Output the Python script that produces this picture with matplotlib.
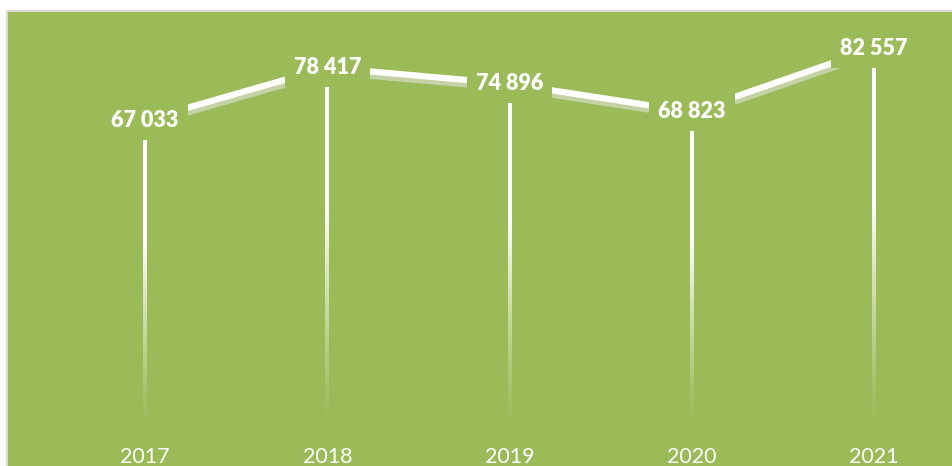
import numpy as np
import matplotlib
matplotlib.use("Agg")
import matplotlib.pyplot as plt
import matplotlib.patheffects as pe
from matplotlib.collections import LineCollection
from matplotlib.patches import Rectangle

years = ["2017", "2018", "2019", "2020", "2021"]
values = [67033, 78417, 74896, 68823, 82557]
labels = ["67 033", "78 417", "74 896", "68 823", "82 557"]

GREEN = "#9BBB59"
W, H = 953, 466
fig = plt.figure(figsize=(W / 100, H / 100), dpi=100)
fig.patch.set_facecolor("white")

# green panel with light grey border on left/top
fig.patches.append(Rectangle((6 / W, 0), (W - 6) / W, (H - 10) / H, transform=fig.transFigure,
                             facecolor="#D9D9D9", edgecolor="none", zorder=0))
fig.patches.append(Rectangle((8 / W, 0), (W - 8) / W, (H - 12) / H, transform=fig.transFigure,
                             facecolor=GREEN, edgecolor="none", zorder=0))

zero_py = 428.8
ax = fig.add_axes([0, (H - zero_py) / H, 1, zero_py / H])
ax.set_zorder(2)
ax.set_facecolor("none")
ax.set_xlim(-145 / 182.25, (W - 145) / 182.25)
ax.set_ylim(0, zero_py / 0.004606)
for s in ax.spines.values():
    s.set_visible(False)
ax.set_yticks([])
x = np.arange(len(years))
ax.set_xticks(x)
ax.set_xticklabels(years, fontfamily="Lato", fontsize=15.5, color="white")
ax.tick_params(axis="x", length=0, pad=13)

# drop lines with fade towards the axis
for xi, v in zip(x, values):
    ys = np.linspace(0, v, 150)
    segs = [[(xi, ys[k]), (xi, ys[k + 1])] for k in range(len(ys) - 1)]
    frac = ys[:-1] / v
    alpha = np.clip(frac / 0.6, 0, 1) ** 1.3
    cols = [(1, 1, 1, a) for a in alpha]
    ax.add_collection(LineCollection(segs, colors=cols, linewidths=1.5, zorder=2,
                                     capstyle="butt", antialiaseds=False))

# main line with soft shadow
ax.plot(x, values, color="white", lw=4.5, solid_capstyle="butt", zorder=3,
        path_effects=[pe.SimpleLineShadow(offset=(0.5, -3.2), shadow_color="#E6E6E6", alpha=0.55),
                      pe.Normal()])

for xi, v, lab in zip(x, values, labels):
    ax.text(xi, v, lab, ha="center", va="center", fontfamily="Lato", fontweight="heavy",
            fontsize=15.5, color="white", zorder=5,
            bbox=dict(boxstyle="square,pad=0.42", facecolor=GREEN, edgecolor="none"))

fig.savefig("out.png", dpi=100, facecolor="white")
